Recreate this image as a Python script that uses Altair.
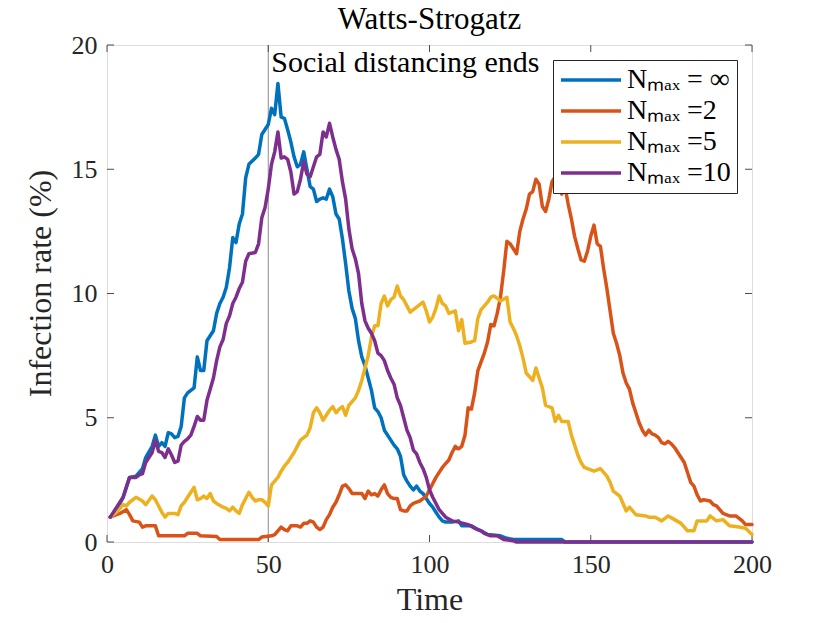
import altair as alt
import pandas as pd

# ---------------- data ----------------
SERIES = ["Nₘₐₓ = ∞", "Nₘₐₓ =2", "Nₘₐₓ =5", "Nₘₐₓ =10"]
COLORS = ["#0072BD", "#D95319", "#EDB120", "#7E2F8E"]

t_inf = [1, 3, 5, 7, 9, 11, 12, 14, 15, 16, 17, 18, 19, 20, 21, 22, 23, 24, 25, 27, 28, 29, 30,
         31, 32, 33, 34, 35, 36, 37, 38, 39, 40, 41, 42, 43, 44, 46, 47, 48, 49, 50, 51, 52, 53,
         54, 55, 56, 57, 58, 59, 60, 61, 62, 63, 64, 65, 66, 67, 68, 69, 70, 71, 72, 73, 74, 75,
         76, 77, 78, 79, 80, 81, 82, 83, 84, 85, 86, 87, 88, 89, 90, 91, 92, 93, 94, 95, 96, 97,
         98, 99, 100, 101, 102, 103, 104, 105, 107, 109, 110, 113, 115, 116, 118, 122, 124, 126,
         141, 142, 200]
v_inf = [1.0, 1.3, 1.8, 2.6, 2.65, 2.95, 3.4, 3.85, 4.3, 3.85, 4.0, 3.85, 4.4, 4.35, 4.2, 4.25,
         4.65, 5.8, 6.0, 6.2, 7.45, 6.9, 6.9, 8.1, 8.3, 8.5, 9.2, 9.6, 9.85, 10.25, 11.05, 12.25,
         12.05, 12.8, 13.2, 14.65, 15.2, 15.45, 15.6, 16.4, 16.6, 16.8, 17.45, 17.2, 18.45, 17.1,
         17.05, 16.6, 16.1, 15.5, 15.1, 15.2, 15.7, 15.0, 14.3, 14.2, 13.7, 13.8, 13.85, 13.8,
         14.2, 13.9, 13.2, 13.0, 12.2, 11.2, 10.1, 9.4, 9.0, 8.1, 7.45, 7.1, 6.6, 6.1, 5.4, 5.25,
         5.0, 4.5, 4.3, 4.1, 3.9, 3.75, 3.45, 2.7, 2.45, 2.25, 2.1, 2.25, 2.05, 1.95, 1.75, 1.55,
         1.4, 1.2, 1.0, 0.85, 0.8, 0.8, 0.85, 0.65, 0.65, 0.5, 0.45, 0.3, 0.25, 0.15, 0.1, 0.1,
         0.0, 0.0]

t_n2 = [1, 4, 6, 7, 8, 10, 11, 12, 15, 16, 24, 25, 28, 29, 34, 35, 47, 48, 51, 52, 54, 55, 56,
        57, 59, 60, 61, 62, 63, 64, 65, 66, 67, 68, 69, 70, 71, 72, 73, 74, 75, 76, 78, 79, 80,
        81, 82, 83, 84, 85, 86, 87, 88, 89, 90, 91, 92, 93, 94, 95, 96, 97, 98, 99, 100, 101,
        102, 103, 104, 105, 106, 107, 108, 109, 110, 111, 112, 113, 114, 115, 116, 117, 118, 119,
        120, 121, 122, 123, 124, 125, 126, 127, 128, 129, 130, 131, 132, 133, 134, 135, 136, 137,
        138, 139, 140, 141, 142, 143, 144, 145, 146, 147, 148, 149, 150, 151, 152, 153, 154, 155,
        156, 157, 158, 159, 160, 161, 162, 163, 164, 165, 166, 167, 168, 169, 170, 171, 172, 173,
        174, 175, 176, 177, 178, 179, 180, 181, 182, 183, 184, 185, 187, 188, 189, 190, 191, 192,
        193, 195, 196, 197, 198, 200]
v_n2 = [1.0, 1.15, 1.3, 1.1, 0.85, 0.8, 0.6, 0.65, 0.65, 0.25, 0.25, 0.35, 0.35, 0.25, 0.22,
        0.1, 0.1, 0.2, 0.25, 0.3, 0.6, 0.5, 0.45, 0.65, 0.65, 0.6, 0.75, 0.75, 0.85, 0.8, 0.6,
        0.5, 0.6, 0.9, 1.1, 1.4, 1.6, 1.9, 2.25, 2.3, 2.15, 1.95, 1.95, 1.95, 1.75, 2.05, 1.9,
        1.95, 1.85, 2.1, 2.3, 1.95, 1.8, 1.75, 1.75, 1.3, 1.25, 1.25, 1.45, 1.55, 1.6, 1.65,
        1.75, 1.85, 2.1, 2.35, 2.6, 2.8, 3.0, 3.15, 3.3, 3.6, 3.85, 3.75, 3.85, 4.3, 5.4, 5.35,
        6.0, 6.9, 7.25, 7.6, 8.05, 8.75, 8.7, 9.2, 9.85, 10.9, 12.1, 12.0, 11.8, 11.6, 12.5,
        13.0, 13.4, 14.0, 14.1, 14.6, 14.4, 13.5, 13.3, 13.8, 14.5, 14.7, 14.3, 14.0, 14.3, 13.6,
        13.0, 12.3, 11.8, 11.35, 11.3, 11.7, 12.3, 12.75, 12.0, 11.9, 11.0, 10.2, 9.3, 8.4, 8.0,
        7.5, 6.8, 6.4, 6.15, 5.6, 5.2, 4.8, 4.5, 4.3, 4.5, 4.35, 4.3, 4.2, 4.0, 3.95, 4.05, 3.95,
        3.8, 3.6, 3.4, 3.2, 2.8, 2.4, 2.25, 1.9, 1.65, 1.7, 1.65, 1.5, 1.45, 1.3, 1.15, 1.1,
        1.05, 1.05, 0.95, 0.85, 0.7, 0.7]

t_n5 = [1, 3, 5, 6, 7, 9, 11, 12, 14, 15, 16, 17, 18, 19, 21, 22, 23, 24, 26, 27, 28, 29, 30,
        31, 32, 33, 34, 36, 37, 38, 39, 40, 41, 42, 43, 44, 45, 46, 47, 48, 49, 50, 51, 52, 53,
        54, 55, 56, 57, 58, 59, 60, 61, 62, 63, 64, 65, 66, 67, 68, 69, 70, 71, 72, 73, 74, 75,
        76, 77, 78, 79, 80, 81, 82, 83, 84, 85, 86, 87, 88, 89, 90, 91, 92, 93, 94, 95, 96, 97,
        98, 99, 100, 101, 102, 103, 104, 105, 106, 108, 109, 110, 111, 113, 114, 115, 116, 117,
        118, 119, 120, 121, 122, 124, 125, 126, 127, 128, 129, 130, 132, 133, 134, 135, 136, 138,
        139, 140, 141, 143, 144, 145, 146, 147, 148, 150, 151, 153, 155, 156, 157, 159, 160, 161,
        162, 164, 167, 168, 170, 172, 174, 176, 178, 179, 180, 182, 183, 186, 187, 189, 191, 193,
        196, 198, 200]
v_n5 = [1.0, 1.2, 1.5, 1.45, 1.6, 1.8, 1.65, 1.5, 1.85, 1.7, 1.45, 1.2, 1.0, 1.15, 1.15, 1.1,
        1.45, 1.6, 2.0, 2.2, 1.7, 1.75, 1.85, 1.75, 1.95, 1.65, 1.55, 1.4, 1.35, 1.25, 1.4, 1.25,
        1.15, 1.5, 1.75, 2.0, 1.8, 1.65, 1.7, 1.7, 1.6, 1.45, 2.3, 2.45, 2.6, 2.85, 3.05, 3.2,
        3.4, 3.6, 3.85, 4.1, 4.2, 4.3, 4.6, 5.2, 5.4, 5.2, 4.9, 5.1, 5.3, 5.45, 5.2, 5.35, 5.45,
        5.1, 5.5, 5.65, 5.8, 6.1, 6.5, 7.0, 7.5, 8.25, 8.7, 8.7, 9.6, 9.9, 9.5, 9.75, 9.85, 10.3,
        9.9, 9.75, 9.5, 9.25, 9.35, 9.45, 9.55, 9.65, 9.3, 8.85, 9.05, 9.4, 9.9, 9.6, 9.5, 9.2,
        9.3, 8.5, 8.95, 8.0, 8.05, 8.1, 9.0, 9.35, 9.5, 9.65, 9.85, 9.9, 9.8, 9.7, 9.85, 8.85,
        8.6, 8.3, 7.9, 7.4, 6.8, 6.5, 7.0, 6.6, 6.2, 5.5, 5.4, 4.85, 5.1, 4.85, 4.85, 4.3, 3.9,
        3.5, 3.2, 3.0, 2.9, 2.85, 2.95, 2.65, 2.4, 2.05, 1.85, 1.55, 1.25, 1.4, 1.1, 1.05, 1.0,
        1.0, 0.85, 1.05, 0.9, 0.75, 0.6, 0.45, 0.45, 0.85, 0.85, 1.05, 0.85, 0.9, 0.65, 0.6,
        0.55, 0.3]

t_n10 = [1, 3, 5, 6, 7, 9, 10, 11, 12, 14, 15, 16, 17, 18, 19, 20, 21, 22, 23, 24, 25, 26, 27,
         28, 29, 30, 31, 32, 33, 34, 35, 36, 37, 38, 39, 40, 41, 42, 43, 44, 46, 47, 48, 49, 50,
         51, 52, 53, 54, 55, 56, 57, 58, 59, 60, 61, 62, 63, 64, 65, 66, 67, 68, 69, 70, 71, 72,
         73, 74, 75, 76, 77, 78, 79, 80, 81, 82, 83, 84, 85, 86, 87, 88, 89, 90, 91, 92, 93, 94,
         95, 96, 97, 98, 99, 100, 101, 102, 103, 104, 105, 107, 109, 112, 114, 116, 117, 119, 121,
         123, 126, 127, 200]
v_n10 = [1.0, 1.4, 1.8, 2.2, 2.6, 2.6, 2.7, 2.75, 3.2, 3.6, 4.1, 3.65, 3.6, 3.4, 3.75, 3.5, 3.2,
         3.25, 3.9, 4.05, 4.15, 4.3, 4.65, 5.05, 4.9, 4.9, 5.7, 6.15, 6.6, 7.3, 7.85, 8.15, 8.8,
         9.1, 9.6, 9.85, 10.2, 10.45, 11.3, 11.6, 11.65, 12.0, 13.05, 13.45, 14.2, 15.2, 15.7,
         16.5, 15.45, 15.5, 15.4, 14.9, 14.0, 14.1, 14.6, 15.3, 14.8, 14.7, 15.1, 15.5, 15.6,
         16.5, 16.3, 16.85, 16.3, 15.8, 15.4, 14.5, 13.8, 12.6, 11.8, 11.4, 10.8, 9.6, 8.9, 8.6,
         8.4, 8.1, 7.6, 7.5, 7.3, 6.9, 6.6, 6.35, 5.8, 5.5, 5.0, 4.5, 4.2, 3.7, 3.55, 3.2, 2.95,
         2.6, 2.1, 1.8, 1.55, 1.3, 1.15, 1.0, 0.85, 0.8, 0.7, 0.55, 0.45, 0.35, 0.25, 0.25, 0.1,
         0.05, 0.0, 0.0]

X_TICKS = [0, 50, 100, 150, 200]
Y_TICKS = [0, 5, 10, 15, 20]
EVENT_TIME = [50]
EVENT_TEXT = ["Social distancing ends"]

TITLE = "Watts-Strogatz"
X_TITLE = "Time"
Y_TITLE = "Infection rate (%)"

# ---------------- build tables ----------------
frames = []
for name, ts, vs in zip(SERIES, [t_inf, t_n2, t_n5, t_n10], [v_inf, v_n2, v_n5, v_n10]):
    frames.append(pd.DataFrame({"time": ts, "rate": vs, "series": name}))
df = pd.concat(frames, ignore_index=True)
xt = pd.DataFrame({"time": X_TICKS})
yt = pd.DataFrame({"rate": Y_TICKS})
ev = pd.DataFrame({"time": EVENT_TIME, "label": EVENT_TEXT})

W, H = 645, 497
FONT = "Liberation Serif"
AX = "#4d4d4d"
TL = 7

xscale = alt.Scale(domain=[0, 200], nice=False, zero=False)
yscale = alt.Scale(domain=[0, 20], nice=False)

xaxis = alt.Axis(values=X_TICKS, ticks=False, domain=False, grid=False, labelFont=FONT,
                 labelFontSize=26, labelColor="#262626", labelPadding=9, labelFlush=False,
                 title=X_TITLE, titleFont=FONT, titleFontSize=32, titleFontWeight="normal",
                 titleColor="#262626", titlePadding=7)
yaxis = alt.Axis(values=Y_TICKS, ticks=False, domain=False, grid=False, labelFont=FONT,
                 labelFontSize=26, labelColor="#262626", labelPadding=10, labelFlush=False,
                 title=Y_TITLE, titleFont=FONT, titleFontSize=32, titleFontWeight="normal",
                 titleColor="#262626", titlePadding=14, titleY=238)

X = alt.X("time:Q", scale=xscale, axis=xaxis)
Y = alt.Y("rate:Q", scale=yscale, axis=yaxis)

legend = alt.Legend(title=None, orient="top-right", offset=15, fillColor="white",
                    strokeColor="#262626", padding=6, symbolType="M-1,0L4,0", symbolSize=576,
                    symbolStrokeWidth=3.5, labelFont=FONT, labelFontSize=28, labelColor="black",
                    labelOffset=40, rowPadding=3, labelLimit=300)

color = alt.Color("series:N", scale=alt.Scale(domain=SERIES, range=COLORS), legend=legend)

vline = alt.Chart(ev).mark_rule(color="#8c8c8c", strokeWidth=1).encode(x=X)
vtext = alt.Chart(ev).mark_text(align="left", baseline="top", dx=3, dy=1, font=FONT,
                                fontSize=30, color="black").encode(
    x=X, y=alt.value(2), text="label:N")

lines = []
for s in SERIES:
    lines.append(
        alt.Chart(df).transform_filter(alt.datum.series == s)
        .mark_line(strokeWidth=3.5, strokeJoin="round", strokeCap="round", clip=False)
        .encode(x=X, y=Y, color=color)
    )

tick_style = dict(color=AX, strokeWidth=1)
bx = alt.Chart(xt).mark_rule(**tick_style).encode(x=X, y=alt.value(H), y2=alt.value(H - TL))
tx = alt.Chart(xt).mark_rule(**tick_style).encode(x=X, y=alt.value(0), y2=alt.value(TL))
ly = alt.Chart(yt).mark_rule(**tick_style).encode(y=Y, x=alt.value(0), x2=alt.value(TL))
ry = alt.Chart(yt).mark_rule(**tick_style).encode(y=Y, x=alt.value(W), x2=alt.value(W - TL))

chart = alt.layer(vline, bx, tx, ly, ry, *lines, vtext).properties(
    width=W, height=H,
    title=alt.Title(TITLE, font=FONT, fontSize=31, fontWeight="normal", color="black",
                    anchor="middle", frame="group", offset=9, dy=13),
    autosize=alt.AutoSizeParams(type="none"),
    padding={"left": 99, "top": 37, "right": 70, "bottom": 73},
).configure_view(stroke=AX, strokeWidth=1).configure(background="white")

chart.save("out.html", embed_options={"renderer": "svg", "actions": False})
